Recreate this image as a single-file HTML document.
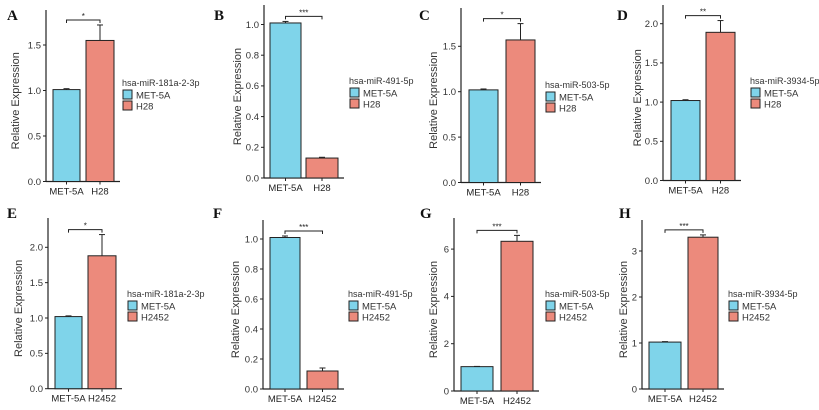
<!DOCTYPE html>
<html><head><meta charset="utf-8">
<style>
html,body{margin:0;padding:0;background:#fff;}
svg{display:block;font-family:"Liberation Sans",sans-serif;}
</style></head>
<body>
<svg id="fig" width="819" height="410" viewBox="0 0 819 410" xmlns="http://www.w3.org/2000/svg"></svg>
<script>
// ---- data ----
const panelLabels = ["A","B","C","D","E","F","G","H"];
const categories1 = ["MET-5A","MET-5A","MET-5A","MET-5A","MET-5A","MET-5A","MET-5A","MET-5A"];
const categories2 = ["H28","H28","H28","H28","H2452","H2452","H2452","H2452"];
const legendTitles = ["hsa-miR-181a-2-3p","hsa-miR-491-5p","hsa-miR-503-5p","hsa-miR-3934-5p","hsa-miR-181a-2-3p","hsa-miR-491-5p","hsa-miR-503-5p","hsa-miR-3934-5p"];
const means1 = [1.01, 1.01, 1.02, 1.02, 1.02, 1.01, 1.03, 1.02];
const errs1  = [0.01, 0.01, 0.01, 0.01, 0.01, 0.01, 0.01, 0.01];
const means2 = [1.55, 0.13, 1.57, 1.89, 1.88, 0.12, 6.33, 3.30];
const errs2  = [0.17, 0.005, 0.18, 0.15, 0.30, 0.02, 0.25, 0.05];
const sigLabels = ["*","***","*","**","*","***","***","***"];
const ticksA = [0,0.5,1,1.5];
const ticksB = [0,0.2,0.4,0.6,0.8,1.0];
const ticksD = [0,0.5,1,1.5,2];
const ticksG = [0,2,4,6];
const ticksH = [0,1,2,3];
const tickSets = [ticksA, ticksB, ticksA, ticksD, ticksD, ticksB, ticksG, ticksH];
const tickDecimals = [1,1,1,1,1,1,0,0];

// ---- layout (pixels, not data) ----
const layout = [
 {ax:46, y0:181.5, top:10, ppu:91, b1:[53,80], b2:[86,114], lx:122, ly:86, lab:[7,20], tt:15},
 {ax:264, y0:178, top:5, ppu:153.5, b1:[270,301], b2:[306,338], lx:349, ly:84, lab:[214,20], tt:237},
 {ax:461, y0:182.5, top:8, ppu:90.8, b1:[469,498], b2:[506,535], lx:545, ly:88, lab:[419,20], tt:433},
 {ax:663, y0:180.5, top:5, ppu:78.4, b1:[671,700], b2:[706,735], lx:750, ly:84, lab:[617,20], tt:637},
 {ax:48, y0:388.7, top:218, ppu:70.7, b1:[55,82], b2:[88,116], lx:127, ly:297, lab:[7,218], tt:18},
 {ax:263, y0:389, top:220, ppu:150, b1:[270,300], b2:[307,338], lx:348, ly:297, lab:[213,218], tt:235},
 {ax:454, y0:391, top:218, ppu:23.65, b1:[461,493], b2:[501,533], lx:545, ly:297, lab:[420,218], tt:433},
 {ax:642, y0:389, top:220, ppu:46, b1:[649,681], b2:[688,718], lx:728, ly:297, lab:[619,218], tt:623}
];
const C1 = "#7fd4ea", C2 = "#ec8a7c";
const NS = "http://www.w3.org/2000/svg";
const svg = document.getElementById("fig");
function mk(tag, attrs, parent, text){
  const e = document.createElementNS(NS, tag);
  for (const k in attrs) e.setAttribute(k, attrs[k]);
  if (text !== undefined) e.textContent = text;
  (parent||svg).appendChild(e);
  return e;
}
for (let i=0;i<8;i++){
  const L = layout[i];
  const yS = v => L.y0 - v*L.ppu;
  const g = mk("g", {});
  
  
  const lab = mk("text", {x:L.lab[0], y:L.lab[1], "font-family":"Liberation Serif, serif", "font-weight":"bold", "font-size":15, fill:"#111"}, g, panelLabels[i]);
  
  
  const ya = mk("line", {x1:L.ax, y1:L.top, x2:L.ax, y2:L.y0, stroke:"#222", "stroke-width":1.2}, g);
  
  
  const xa = mk("line", {x1:L.ax, y1:L.y0, x2:L.b2[1]+6, y2:L.y0, stroke:"#222", "stroke-width":1.2}, g);
  
  
  tickSets[i].forEach(t=>{
    const y = yS(t);
    mk("line", {x1:L.ax-3, y1:y, x2:L.ax, y2:y, stroke:"#222", "stroke-width":1}, g);
    const tl = mk("text", {x:L.ax-5, y:y+3.3, "text-anchor":"end", "font-size":9.5, fill:"#333"}, g, t.toFixed(tickDecimals[i]));
    
    
  });
  const midY = (L.y0 + L.top)/2 + 5;
  const yt = mk("text", {x:0, y:0, transform:`translate(${L.tt+4},${midY}) rotate(-90)`, "text-anchor":"middle", "font-size":11, fill:"#333"}, g, "Relative Expression");
  
  
  [[L.b1, means1[i], errs1[i], C1, categories1[i], "bar-met-5a"],[L.b2, means2[i], errs2[i], C2, categories2[i], "bar-tumor"]].forEach(b=>{
    const [xr, m, e, col, cat, nm] = b;
    const cx = (xr[0]+xr[1])/2;
    const ey = yS(m+e);
    mk("line", {x1:cx, y1:yS(m), x2:cx, y2:ey, stroke:"#222", "stroke-width":1}, g);
    mk("line", {x1:cx-3, y1:ey, x2:cx+3, y2:ey, stroke:"#222", "stroke-width":1}, g);
    const r = mk("rect", {x:xr[0], y:yS(m), width:xr[1]-xr[0], height:L.y0-yS(m), fill:col, stroke:"#222", "stroke-width":1}, g);
    
    
    mk("line", {x1:cx, y1:L.y0, x2:cx, y2:L.y0+3, stroke:"#222", "stroke-width":1}, g);
    const xl = mk("text", {x:cx, y:L.y0+13, "text-anchor":"middle", "font-size":9.5, fill:"#222"}, g, cat);
    
    
  });
  const c1 = (L.b1[0]+L.b1[1])/2, c2 = (L.b2[0]+L.b2[1])/2;
  const topVal = Math.max(means1[i]+errs1[i], means2[i]+errs2[i]);
  const by = Math.max(yS(topVal) - 5, L.top + 5);
  const br = mk("path", {d:`M${c1},${by+3} L${c1},${by} L${c2},${by} L${c2},${by+3}`, fill:"none", stroke:"#222", "stroke-width":1}, g);
  
  
  const st = mk("text", {x:(c1+c2)/2, y:by-1, "text-anchor":"middle", "font-size":8, fill:"#222"}, g, sigLabels[i]);
  
  
  const lg = mk("g", {}, g);
  
  
  mk("text", {x:L.lx, y:L.ly, "font-size":9, fill:"#333"}, lg, legendTitles[i]);
  [[C1, categories1[i]],[C2, categories2[i]]].forEach((e,k)=>{
    const yy = L.ly + 4 + k*11;
    const sw = mk("rect", {x:L.lx+1, y:yy, width:9, height:9, fill:e[0], stroke:"#222", "stroke-width":1}, lg);
    
    
    const lt = mk("text", {x:L.lx+14, y:yy+8.5, "font-size":9.5, fill:"#333"}, lg, e[1]);
    
    
  });
}
</script>
</body></html>
